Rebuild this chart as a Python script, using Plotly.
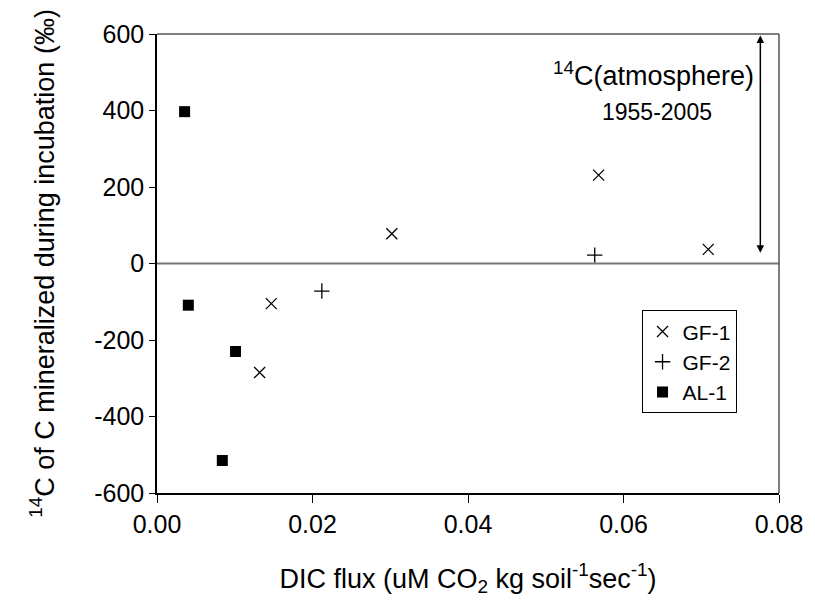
import plotly.graph_objects as go

gf1_x = [0.0147, 0.0132, 0.0302, 0.0568, 0.0709]
gf1_y = [-105, -285, 78, 231, 37]
gf2_x = [0.0212, 0.0563]
gf2_y = [-72, 22]
al1_x = [0.00355, 0.00403, 0.0101, 0.0084]
al1_y = [397, -109, -230, -515]

y_ticks = [-600, -400, -200, 0, 200, 400, 600]
y_tick_labels = ["-600", "-400", "-200", "0", "200", "400", "600"]

atm_x = 0.0776
atm_range = [28, 600]

font = "Liberation Sans, Arial, sans-serif"

fig = go.Figure()
fig.add_trace(go.Scatter(x=gf1_x, y=gf1_y, mode="markers", name="GF-1",
                         marker=dict(symbol="x-thin", size=11, line=dict(color="black", width=1.3))))
fig.add_trace(go.Scatter(x=gf2_x, y=gf2_y, mode="markers", name="GF-2",
                         marker=dict(symbol="cross-thin", size=11, line=dict(color="black", width=1.3))))
fig.add_trace(go.Scatter(x=al1_x, y=al1_y, mode="markers", name="AL-1",
                         marker=dict(symbol="square", size=11, color="black")))

# zero line
fig.add_shape(type="line", xref="paper", x0=0, x1=1, y0=0, y1=0,
              line=dict(color="#777777", width=2))

# atmosphere range arrow
fig.add_annotation(x=atm_x, y=atm_range[0], ax=atm_x, ay=atm_range[1],
                   xref="x", yref="y", axref="x", ayref="y", text="",
                   showarrow=True, arrowhead=2, arrowside="end+start",
                   arrowsize=1, arrowwidth=1.5, arrowcolor="black")
fig.add_annotation(x=0.0639, y=495, xref="x", yref="y", showarrow=False,
                   text="<sup>14</sup>C(atmosphere)", font=dict(size=27, color="black", family=font))
fig.add_annotation(x=0.0643, y=397, xref="x", yref="y", showarrow=False,
                   text="1955-2005", font=dict(size=23, color="black", family=font))

fig.update_layout(
    width=807, height=595,
    margin=dict(l=149, r=34, t=21, b=110),
    plot_bgcolor="white", paper_bgcolor="white",
    font=dict(family=font, size=25, color="black"),
    showlegend=True,
    legend=dict(x=0.779, y=0.398, xanchor="left", yanchor="top",
                bordercolor="black", borderwidth=1, bgcolor="white",
                font=dict(size=21), itemwidth=30, tracegroupgap=0),
    xaxis=dict(range=[0, 0.08], dtick=0.02, tickformat=".2f",
               showgrid=False, zeroline=False, showline=True, linecolor="black", linewidth=1.5,
               mirror=False, ticks="outside", ticklen=8, tickcolor="black",
               title=dict(text="DIC flux (uM CO<sub>2</sub> kg soil<sup>-1</sup>sec<sup>-1</sup>)",
                          font=dict(size=27), standoff=32)),
    yaxis=dict(range=[-600, 600], tickvals=y_ticks, ticktext=y_tick_labels,
               showgrid=False, zeroline=False, showline=True, linecolor="black", linewidth=1.5,
               ticks="outside", ticklen=6, tickcolor="black",
               title=dict(text="<sup>14</sup>C of C mineralized during incubation (‰)",
                          font=dict(size=27), standoff=32)),
)
# grey frame on top and right
fig.add_shape(type="line", xref="paper", yref="paper", x0=0, x1=1, y0=1, y1=1,
              line=dict(color="#555555", width=1.5))
fig.add_shape(type="line", xref="paper", yref="paper", x0=1, x1=1, y0=0, y1=1,
              line=dict(color="#555555", width=1.5))

fig.write_html("out.html")
